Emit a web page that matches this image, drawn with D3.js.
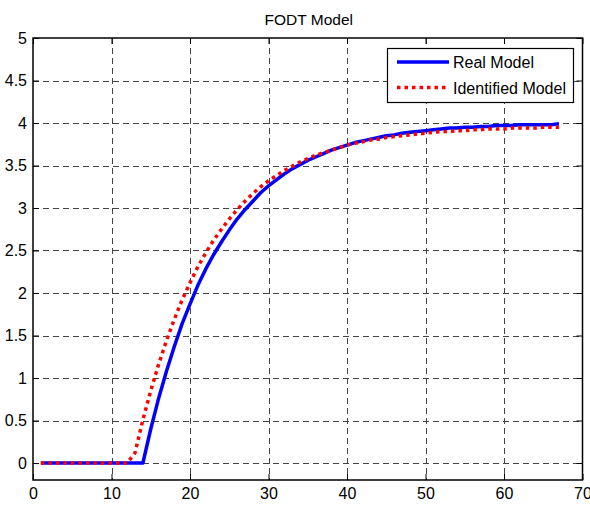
<!DOCTYPE html>
<html>
<head>
<meta charset="utf-8">
<script src="https://cdn.jsdelivr.net/npm/d3@7"></script>
<style>
  body { margin: 0; background: #fff; }
  svg { display: block; font-family: Arial, "Liberation Sans", sans-serif; }
</style>
</head>
<body>
<div id="chart"></div>
<script>
// time samples 1..67
const timeSteps = d3.range(1, 68);

const realModel = [
    0, 0, 0, 0, 0, 0, 0, 0, 0, 0, 0, 0, 0, 0,
    0.40, 0.76, 1.08, 1.37, 1.64, 1.87, 2.09, 2.28, 2.45, 2.60,
    2.74, 2.87, 2.98, 3.08, 3.18, 3.26, 3.33, 3.40, 3.46, 3.51,
    3.56, 3.60, 3.64, 3.68, 3.71, 3.74, 3.77, 3.79, 3.81, 3.83,
    3.85, 3.86, 3.88, 3.89, 3.90, 3.91, 3.92, 3.93, 3.94, 3.94,
    3.95, 3.95, 3.96, 3.96, 3.97, 3.97, 3.97, 3.98, 3.98, 3.98,
    3.98, 3.98, 3.99
];

const identifiedModel = [
    0, 0, 0, 0, 0, 0, 0, 0, 0, 0, 0, 0,
    0.12, 0.51, 0.85, 1.16, 1.44, 1.69, 1.92, 2.12, 2.31, 2.47,
    2.62, 2.75, 2.87, 2.98, 3.08, 3.17, 3.25, 3.32, 3.38, 3.44,
    3.49, 3.54, 3.58, 3.62, 3.65, 3.68, 3.71, 3.74, 3.76, 3.78,
    3.80, 3.81, 3.83, 3.84, 3.85, 3.86, 3.87, 3.88, 3.89, 3.90,
    3.90, 3.91, 3.91, 3.92, 3.92, 3.93, 3.93, 3.93, 3.94, 3.94,
    3.94, 3.94, 3.95, 3.95, 3.95
];

const xTicks = d3.range(0, 71, 10);
const yTicks = d3.range(0, 5.01, 0.5);
const legendNames = ["Real Model", "Identified Model"];

const width = 590, height = 507;
const margin = { left: 33, right: 582.5, top: 38, bottom: 480 };

const x = d3.scaleLinear().domain([0, 70]).range([margin.left, margin.right]);
const y = d3.scaleLinear().domain([-0.2, 5]).range([margin.bottom, margin.top]);

const svg = d3.select("#chart").append("svg")
    .attr("width", width)
    .attr("height", height);

svg.append("rect").attr("width", width).attr("height", height).attr("fill", "#fff");

// grid
const grid = svg.append("g")
    .attr("stroke", "#444")
    .attr("stroke-width", 1)
    .attr("stroke-dasharray", "6,4");
grid.selectAll(".gx")
    .data(xTicks.filter(d => d > 0 && d < 70))
    .join("line")
    .attr("x1", d => Math.round(x(d)) + 0.5).attr("x2", d => Math.round(x(d)) + 0.5)
    .attr("y1", margin.top).attr("y2", margin.bottom);
grid.selectAll(".gy")
    .data(yTicks.filter(d => d < 5))
    .join("line")
    .attr("y1", d => Math.round(y(d)) + 0.5).attr("y2", d => Math.round(y(d)) + 0.5)
    .attr("x1", margin.left).attr("x2", margin.right);

// axes with inward ticks
const axisBottom = svg.append("g")
    .attr("transform", `translate(0,${margin.bottom})`)
    .call(d3.axisBottom(x).tickValues(xTicks).tickSizeInner(-6).tickSizeOuter(0).tickPadding(8));
const axisLeft = svg.append("g")
    .attr("transform", `translate(${margin.left},0)`)
    .call(d3.axisLeft(y).tickValues(yTicks).tickSizeInner(-6).tickSizeOuter(0).tickPadding(6)
        .tickFormat(d => d3.format("")(+d.toFixed(1))));
const axisTop = svg.append("g")
    .attr("transform", `translate(0,${margin.top})`)
    .call(d3.axisTop(x).tickValues(xTicks).tickSizeInner(-6).tickSizeOuter(0).tickFormat(""));
const axisRight = svg.append("g")
    .attr("transform", `translate(${margin.right},0)`)
    .call(d3.axisRight(y).tickValues(yTicks).tickSizeInner(-6).tickSizeOuter(0).tickFormat(""));

[axisBottom, axisLeft, axisTop, axisRight].forEach(g => {
    g.select(".domain").remove();
    g.selectAll(".tick line").attr("stroke", "#000");
    g.selectAll("text").attr("font-size", 16).attr("fill", "#000")
        .attr("font-family", "Arial, 'Liberation Sans', sans-serif");
});

// box
svg.append("rect")
    .attr("x", margin.left).attr("y", margin.top)
    .attr("width", margin.right - margin.left).attr("height", margin.bottom - margin.top)
    .attr("fill", "none").attr("stroke", "#000").attr("stroke-width", 1.5);

// lines
const line = d3.line()
    .x((d, i) => x(timeSteps[i]))
    .y(d => y(d));

svg.append("path")
    .datum(realModel)
    .attr("fill", "none")
    .attr("stroke", "#0000ff")
    .attr("stroke-width", 3.5)
    .attr("stroke-linejoin", "round")
    .attr("d", line);

svg.append("path")
    .datum(identifiedModel)
    .attr("fill", "none")
    .attr("stroke", "#ff0000")
    .attr("stroke-width", 3.5)
    .attr("stroke-dasharray", "3.5,4")
    .attr("d", line);

// title
svg.append("text")
    .attr("x", (margin.left + margin.right) / 2 + 1)
    .attr("y", 25)
    .attr("text-anchor", "middle")
    .attr("font-size", 15.5)
    .text("FODT Model");

// legend
const legend = svg.append("g");
legend.append("rect")
    .attr("x", 387.5).attr("y", 48.5)
    .attr("width", 186).attr("height", 54)
    .attr("fill", "#fff").attr("stroke", "#000").attr("stroke-width", 1.2);

const legendStyles = [
    { stroke: "#0000ff", dash: null },
    { stroke: "#ff0000", dash: "3.5,4" }
];
legendNames.forEach((name, i) => {
    const ly = 62 + i * 25.5;
    legend.append("line")
        .attr("x1", 397).attr("x2", 449)
        .attr("y1", ly).attr("y2", ly)
        .attr("stroke", legendStyles[i].stroke)
        .attr("stroke-width", 3.5)
        .attr("stroke-dasharray", legendStyles[i].dash);
    legend.append("text")
        .attr("x", 453).attr("y", ly + 6)
        .attr("font-size", 16)
        .text(name);
});
</script>
</body>
</html>
